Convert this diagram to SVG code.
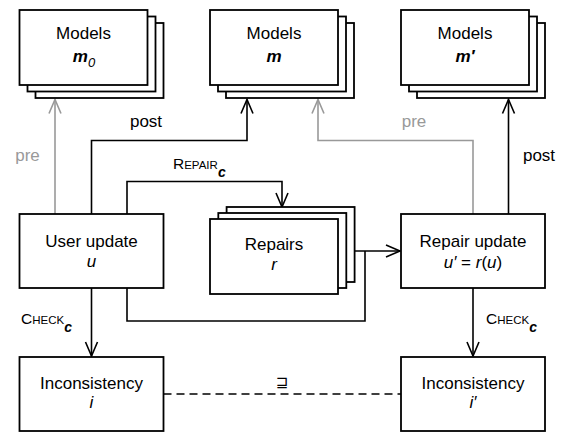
<svg xmlns="http://www.w3.org/2000/svg" width="564" height="432" viewBox="0 0 564 432">
<style>
.box{fill:#fff;stroke:#000;stroke-width:1.8}
.t{font-family:"Liberation Sans",Arial,sans-serif;font-size:17px;fill:#000}
.c{text-anchor:middle}
.it{font-style:italic}
.bi{font-style:italic;font-weight:bold}
.ln{fill:none;stroke:#000;stroke-width:1.6}
.gr{fill:none;stroke:#999;stroke-width:1.6}
.gt{fill:#999}
.sc{font-size:11.5px}
.big{font-size:15.5px}
.sub{font-size:14px;font-style:italic;font-weight:bold}
</style>
<defs>
<marker id="ab" markerUnits="userSpaceOnUse" markerWidth="18" markerHeight="16" viewBox="-16 -8 18 16" refX="0" refY="0" orient="auto">
<path d="M-14,-6 L0,0 L-14,6" fill="none" stroke="#000" stroke-width="1.6"/>
</marker>
<marker id="ag" markerUnits="userSpaceOnUse" markerWidth="18" markerHeight="16" viewBox="-16 -8 18 16" refX="0" refY="0" orient="auto">
<path d="M-14,-6 L0,0 L-14,6" fill="none" stroke="#999" stroke-width="1.6"/>
</marker>
</defs>

<g id="connectors">
<path class="gr" d="M55,214 V99.5" marker-end="url(#ag)"/>
<path class="ln" d="M91.5,214 V140.5 H247 V99.5" marker-end="url(#ab)"/>
<path class="ln" d="M127,214 V181.5 H282 V207" marker-end="url(#ab)"/>
<path class="ln" d="M91.5,288 V356" marker-end="url(#ab)"/>
<path class="ln" d="M127,288 V321 H365 V251"/>
<path class="ln" d="M354.6,251 H400" marker-end="url(#ab)"/>
<path class="gr" d="M473,214 V140.5 H318 V99.5" marker-end="url(#ag)"/>
<path class="ln" d="M508.5,214 V99.5" marker-end="url(#ab)"/>
<path class="ln" d="M473,288 V356" marker-end="url(#ab)"/>
<path class="ln" d="M163.5,394 H401" stroke-dasharray="8 5"/>
<text class="t gt c" x="27.5" y="161">pre</text>
<text class="t c" x="146" y="127">post</text>
<text class="t gt c" x="414" y="127">pre</text>
<text class="t c" x="539" y="161">post</text>
<text class="t" x="173" y="168.5"><tspan class="big">R</tspan><tspan class="sc">EPAIR</tspan><tspan class="sub" dy="8">c</tspan></text>
<text class="t" x="21" y="323.5"><tspan class="big">C</tspan><tspan class="sc">HECK</tspan><tspan class="sub" dy="8">c</tspan></text>
<text class="t" x="486" y="323.5"><tspan class="big">C</tspan><tspan class="sc">HECK</tspan><tspan class="sub" dy="8">c</tspan></text>
<text x="282" y="387" text-anchor="middle" style="font-family:'DejaVu Sans',sans-serif;font-size:15px">⊒</text>
</g>

<g id="models0">
<rect class="box" x="35.5" y="23" width="128" height="75"/>
<rect class="box" x="27.5" y="16.5" width="128" height="75"/>
<rect class="box" x="19.5" y="10" width="128" height="75"/>
<text class="t c" x="83.5" y="39">Models</text>
<text class="t c" x="84" y="62"><tspan class="bi">m</tspan><tspan class="it" font-size="13" dy="4.5">0</tspan></text>
</g>

<g id="models">
<rect class="box" x="226" y="23" width="128" height="75"/>
<rect class="box" x="218" y="16.5" width="128" height="75"/>
<rect class="box" x="210" y="10" width="128" height="75"/>
<text class="t c" x="274" y="39">Models</text>
<text class="t c bi" x="274" y="62">m</text>
</g>

<g id="models1">
<rect class="box" x="417" y="23" width="128" height="75"/>
<rect class="box" x="409" y="16.5" width="128" height="75"/>
<rect class="box" x="401" y="10" width="128" height="75"/>
<text class="t c" x="465" y="39">Models</text>
<text class="t c bi" x="465" y="62">m′</text>
</g>

<g id="userupdate">
<rect class="box" x="19.5" y="214" width="144" height="74"/>
<text class="t c" x="91.5" y="246.5">User update</text>
<text class="t c it" x="91.5" y="266.5">u</text>
</g>

<g id="repairs">
<rect class="box" x="226.6" y="207" width="128" height="75"/>
<rect class="box" x="218.3" y="213" width="128" height="75"/>
<rect class="box" x="210" y="219" width="128" height="75"/>
<text class="t c" x="274" y="250">Repairs</text>
<text class="t c it" x="274" y="270">r</text>
</g>

<g id="repairupdate">
<rect class="box" x="401" y="214" width="144" height="74"/>
<text class="t c" x="473" y="246.5">Repair update</text>
<text class="t c" x="473" y="267.5"><tspan class="it">u′</tspan> = <tspan class="it">r</tspan>(<tspan class="it">u</tspan>)</text>
</g>

<g id="inconsistency">
<rect class="box" x="19.5" y="357" width="144" height="74"/>
<text class="t c" x="91.5" y="389">Inconsistency</text>
<text class="t c it" x="91.5" y="408">i</text>
</g>

<g id="inconsistency1">
<rect class="box" x="401" y="357" width="144" height="74"/>
<text class="t c" x="473" y="389">Inconsistency</text>
<text class="t c it" x="473" y="408">i′</text>
</g>
</svg>
